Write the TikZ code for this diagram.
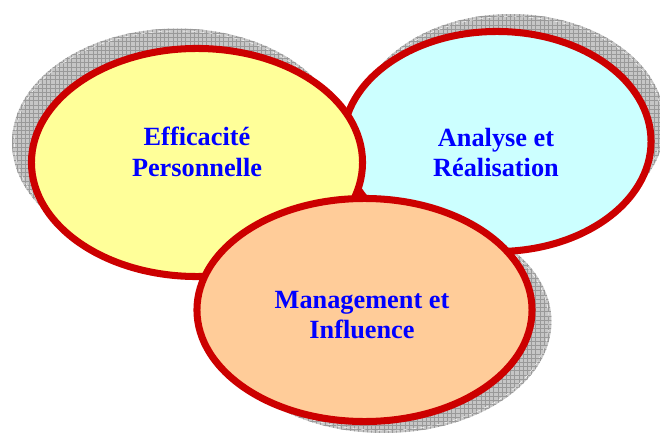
\documentclass[tikz,border=0pt]{standalone}
\usepackage{fontspec}
\setmainfont{Liberation Serif}
\usetikzlibrary{shapes.geometric,patterns,calc}

\definecolor{ringRed}{HTML}{CC0000}
\definecolor{effFill}{HTML}{FFFF99}
\definecolor{anaFill}{HTML}{CCFFFF}
\definecolor{manFill}{HTML}{FFCC99}
\definecolor{labelBlue}{HTML}{0000FF}

\begin{document}
\begin{tikzpicture}[
    x=0.025cm, y=-0.025cm,
    bubble/.style={ellipse,draw=ringRed,line width=5pt,inner sep=0pt},
    shade/.style={fill=gray!45,postaction={pattern=grid,pattern color=gray!80}},
    shadeline/.style={draw=white,dashed,line width=0.3pt},
    txt/.style={font=\bfseries\fontsize{18.7}{21.8}\selectfont,text=labelBlue,align=center,inner sep=0pt}
]

\useasboundingbox (0,0) rectangle (660,434);

% Shadows behind each ellipse (name/centre/radii/offset)
\foreach \n/\cx/\cy/\rx/\ry/\dx/\dy in {ana/497/141.5/154/110/14/-17.5,
                                          eff/197/162.5/165.5/114/-19.5/-20,
                                          man/364.5/310/167.5/111.5/19.5/11.5} {
    \fill[shade] (\cx+\dx,\cy+\dy) ellipse [x radius=\rx, y radius=\ry];
    \draw[shadeline] (\cx+\dx,\cy+\dy) ellipse [x radius=\rx-2.5, y radius=\ry-2.5];
}

% Ellipses
\node[bubble,fill=anaFill,minimum width=7.7cm,minimum height=5.5cm] (ana) at (497,141.5) {};
\node[bubble,fill=effFill,minimum width=8.275cm,minimum height=5.7cm] (eff) at (197,162.5) {};
\node[bubble,fill=manFill,minimum width=8.375cm,minimum height=5.575cm] (man) at (364.5,310) {};

% Labels
\node[txt] (effText) at (197,152) {Efficacité\\Personnelle};
\node[txt] (anaText) at (496,152.5) {Analyse et\\Réalisation};
\node[txt] (manText) at (362,315) {Management et\\Influence};

\end{tikzpicture}
\end{document}
